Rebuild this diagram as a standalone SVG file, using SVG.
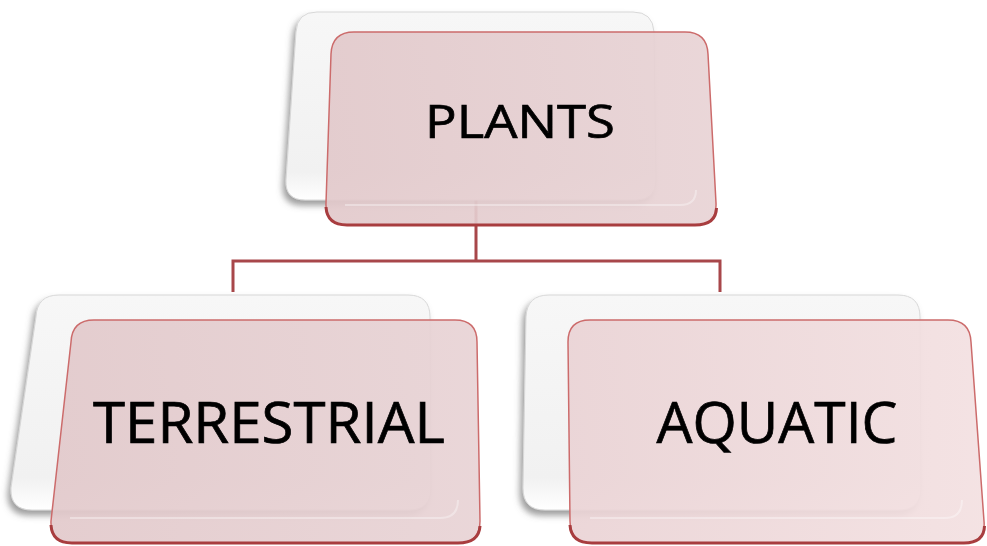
<svg xmlns="http://www.w3.org/2000/svg" width="987" height="546" viewBox="0 0 987 546">
<defs>
<filter id="sh" x="-10%" y="-10%" width="120%" height="130%">
<feDropShadow dx="-3" dy="5" stdDeviation="3" flood-color="#6a6a6a" flood-opacity="0.65"/>
</filter>
<linearGradient id="wg" x1="0" y1="0" x2="0" y2="1">
<stop offset="0" stop-color="#f7f7f7"/>
<stop offset="0.85" stop-color="#f1f1f1"/>
<stop offset="1" stop-color="#ffffff"/>
</linearGradient>
<linearGradient id="pg" x1="0" y1="0" x2="1" y2="0">
<stop offset="0" stop-color="#e2c9cb"/>
<stop offset="1" stop-color="#e8d3d5"/>
</linearGradient>
<linearGradient id="pg2" x1="0" y1="0" x2="1" y2="0">
<stop offset="0" stop-color="#ead3d5"/>
<stop offset="1" stop-color="#f3e0e1"/>
</linearGradient>
</defs>
<style>
.back{fill:url(#wg);stroke:#d8d8d8;stroke-width:1;filter:url(#sh)}
.front{fill:url(#pg);fill-opacity:0.92;stroke:#cc6b6b;stroke-width:1.5}
.front2{fill:url(#pg2);fill-opacity:0.92;stroke:#cc6b6b;stroke-width:1.5}
.edge{fill:none;stroke:#a83d3f;stroke-width:3}
.bevel{fill:none;stroke:#ffffff;stroke-opacity:0.35;stroke-width:2}
.lbl{font-family:"Open Sans","Liberation Sans",sans-serif;fill:#000000;stroke:#000000;stroke-width:0.7}
.conn{fill:none;stroke:#a8474a;stroke-width:3}
</style>
<g id="connectors">
<path class="conn" d="M476,200 V261 M233,261 H720 M233,259.5 V292 M720,259.5 V292"/>
</g>
<g id="plants">
<path class="back" d="M317,12 H633 Q653,12 654,32 L656,180 Q656,200 636,200 H305 Q285,200 286,180 L296,32 Q297,12 317,12 Z"/>
<path class="front" d="M354,32 H685 Q707,32 708,54 L716,203 Q717,225 695,225 H347 Q325,225 326,203 L331,54 Q332,32 354,32 Z"/>
<path class="edge" d="M326,207 Q327,225 347,225 H695 Q716,225 716.5,208"/>
<path class="bevel" d="M345,205 H680 Q696,205 696,190"/>
<text class="lbl" x="520" y="138" font-size="45" text-anchor="middle" textLength="190" lengthAdjust="spacingAndGlyphs">PLANTS</text>
</g>
<g id="terrestrial">
<path class="back" d="M59,295 H408 Q430,295 430,317 L431,488 Q431,510 409,510 H32 Q10,510 11,488 L36,317 Q37,295 59,295 Z"/>
<path class="front" d="M94,320 H455 Q477,320 477,342 L480,521 Q480,543 458,543 H72 Q50,543 51,521 L71,342 Q72,320 94,320 Z"/>
<path class="edge" d="M51,525 Q52,543 72,543 H458 Q479,543 480,526"/>
<path class="bevel" d="M70,518 H440 Q458,518 458,500"/>
<text class="lbl" x="269" y="443" font-size="56" text-anchor="middle" textLength="352" lengthAdjust="spacingAndGlyphs">TERRESTRIAL</text>
</g>
<g id="aquatic">
<path class="back" d="M549,295 H898 Q920,295 920,317 L921,488 Q921,510 899,510 H545 Q523,510 523,488 L526,317 Q527,295 549,295 Z"/>
<path class="front2" d="M590,320 H948 Q970,320 971,342 L984,521 Q986,543 964,543 H592 Q570,543 570,521 L568,342 Q568,320 590,320 Z"/>
<path class="edge" d="M570,525 Q571,543 592,543 H964 Q984,543 984.5,526"/>
<path class="bevel" d="M590,518 H945 Q962,518 962,500"/>
<text class="lbl" x="777" y="443" font-size="56" text-anchor="middle" textLength="241" lengthAdjust="spacingAndGlyphs">AQUATIC</text>
</g>
</svg>
